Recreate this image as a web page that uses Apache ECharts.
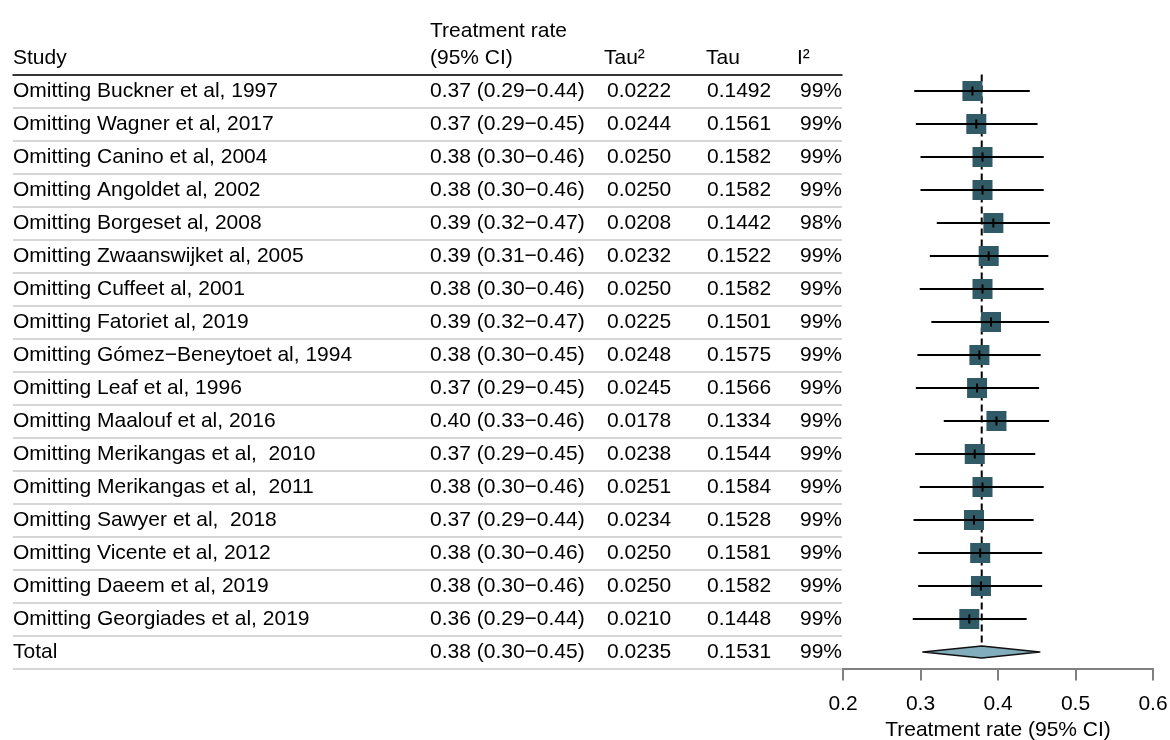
<!DOCTYPE html>
<html>
<head>
<meta charset="utf-8">
<script src="https://cdn.jsdelivr.net/npm/echarts@6/dist/echarts.min.js"></script>
<style>
body { margin: 0; background: #fff; }
#forest { width: 1170px; height: 740px; }
</style>
</head>
<body>
<div id="forest"></div>
<script>
var studies = [
    'Omitting Buckner et al, 1997',
    'Omitting Wagner et al, 2017',
    'Omitting Canino et al, 2004',
    'Omitting Angoldet al, 2002',
    'Omitting Borgeset al, 2008',
    'Omitting Zwaanswijket al, 2005',
    'Omitting Cuffeet al, 2001',
    'Omitting Fatoriet al, 2019',
    'Omitting Gómez\u2212Beneytoet al, 1994',
    'Omitting Leaf et al, 1996',
    'Omitting Maalouf et al, 2016',
    'Omitting Merikangas et al,  2010',
    'Omitting Merikangas et al,  2011',
    'Omitting Sawyer et al,  2018',
    'Omitting Vicente et al, 2012',
    'Omitting Daeem et al, 2019',
    'Omitting Georgiades et al, 2019',
    'Total'
];
var ciText = [
    '0.37 (0.29\u22120.44)', '0.37 (0.29\u22120.45)', '0.38 (0.30\u22120.46)', '0.38 (0.30\u22120.46)',
    '0.39 (0.32\u22120.47)', '0.39 (0.31\u22120.46)', '0.38 (0.30\u22120.46)', '0.39 (0.32\u22120.47)',
    '0.38 (0.30\u22120.45)', '0.37 (0.29\u22120.45)', '0.40 (0.33\u22120.46)', '0.37 (0.29\u22120.45)',
    '0.38 (0.30\u22120.46)', '0.37 (0.29\u22120.44)', '0.38 (0.30\u22120.46)', '0.38 (0.30\u22120.46)',
    '0.36 (0.29\u22120.44)', '0.38 (0.30\u22120.45)'
];
var tau2 = ['0.0222', '0.0244', '0.0250', '0.0250', '0.0208', '0.0232', '0.0250', '0.0225', '0.0248',
    '0.0245', '0.0178', '0.0238', '0.0251', '0.0234', '0.0250', '0.0250', '0.0210', '0.0235'];
var tau = ['0.1492', '0.1561', '0.1582', '0.1582', '0.1442', '0.1522', '0.1582', '0.1501', '0.1575',
    '0.1566', '0.1334', '0.1544', '0.1584', '0.1528', '0.1581', '0.1582', '0.1448', '0.1531'];
var i2 = ['99%', '99%', '99%', '99%', '98%', '99%', '99%', '99%', '99%',
    '99%', '99%', '99%', '99%', '99%', '99%', '99%', '99%', '99%'];

// point estimate and 95% CI of each leave-one-out row
var est = [0.367, 0.372, 0.380, 0.380, 0.394, 0.388, 0.380, 0.391, 0.376, 0.373, 0.398, 0.370, 0.380, 0.369, 0.377, 0.378, 0.363];
var lower = [0.292, 0.294, 0.300, 0.300, 0.321, 0.312, 0.299, 0.314, 0.296, 0.294, 0.330, 0.293, 0.299, 0.291, 0.297, 0.297, 0.290];
var upper = [0.441, 0.451, 0.459, 0.459, 0.467, 0.465, 0.459, 0.466, 0.455, 0.453, 0.466, 0.448, 0.459, 0.446, 0.457, 0.457, 0.437];
var totalEst = 0.379;
var totalLower = 0.303;
var totalUpper = 0.454;

var headers = ['Study', 'Treatment rate', '(95% CI)', 'Tau\u00b2', 'Tau', 'I\u00b2'];
var xName = 'Treatment rate (95% CI)';

var font = '"Liberation Sans", Arial, Helvetica, sans-serif';
var fs = 21;
var tableLeft = 13;
var colX = [13, 430, 607, 707, 800];

var rowData = [];
for (var k = 0; k < est.length; k++) {
    rowData.push([est[k], lower[k], upper[k], k]);
}
var totalRow = studies.length - 1;

function columnAxis(col, x) {
    return {
        type: 'category',
        gridIndex: 0,
        data: studies,
        inverse: true,
        position: 'left',
        axisLine: {show: false},
        axisTick: {show: false},
        splitLine: {show: false},
        axisLabel: {
            interval: 0,
            align: 'left',
            margin: tableLeft - x,
            color: '#000',
            fontSize: fs,
            fontFamily: font,
            formatter: function (v, idx) { return col[idx]; }
        }
    };
}

function headerText(txt, x, y) {
    return {
        type: 'text', x: x, y: y,
        style: {text: txt, fill: '#000', fontSize: fs, fontFamily: font, verticalAlign: 'middle'}
    };
}

var myChart = echarts.init(document.getElementById('forest'));
var option = {
    animation: false,
    grid: [
        {left: tableLeft, right: 328, top: 74.5, bottom: 71.5, containLabel: false, outerBoundsMode: 'none'},
        {left: 843, right: 17, top: 74.5, bottom: 71.5, containLabel: false, outerBoundsMode: 'none'}
    ],
    graphic: [
        headerText(headers[0], 13, 58),
        headerText(headers[1], 430, 31),
        headerText(headers[2], 430, 58),
        headerText(headers[3], 604, 58),
        headerText(headers[4], 706, 58),
        headerText(headers[5], 797, 58)
    ],
    xAxis: [
        {
            type: 'value', gridIndex: 0, min: 0, max: 1, position: 'top',
            axisLine: {show: true, lineStyle: {color: '#000', width: 1.5}},
            axisTick: {show: false}, axisLabel: {show: false}, splitLine: {show: false}
        },
        {
            type: 'value', gridIndex: 1, min: 0.2, max: 0.6, interval: 0.1, position: 'bottom',
            name: xName, nameLocation: 'middle', nameGap: 51,
            nameTextStyle: {color: '#000', fontSize: fs, fontFamily: font},
            axisLine: {show: true, lineStyle: {color: '#808080', width: 2}},
            axisTick: {show: true, length: 12, lineStyle: {color: '#808080', width: 2}},
            axisLabel: {color: '#000', fontSize: fs, fontFamily: font, margin: 25,
                formatter: function (v) { return v.toFixed(1); }},
            splitLine: {show: false}
        }
    ],
    yAxis: [
        {
            type: 'category', gridIndex: 0, data: studies, inverse: true,
            axisLine: {show: false}, axisTick: {show: false}, axisLabel: {show: false},
            splitLine: {show: true, interval: 0, lineStyle: {color: '#c8c8c8', width: 1.5}}
        },
        columnAxis(studies, colX[0]),
        columnAxis(ciText, colX[1]),
        columnAxis(tau2, colX[2]),
        columnAxis(tau, colX[3]),
        columnAxis(i2, colX[4]),
        {
            type: 'category', gridIndex: 1, data: studies, inverse: true, show: false
        }
    ],
    series: [
        {
            // pooled estimate reference line
            type: 'custom',
            xAxisIndex: 1, yAxisIndex: 6,
            data: [[totalEst, totalRow]],
            renderItem: function (params, api) {
                var p = api.coord([api.value(0), api.value(1)]);
                return {
                    type: 'line',
                    shape: {x1: p[0], y1: params.coordSys.y, x2: p[0], y2: p[1]},
                    style: {stroke: '#000', lineWidth: 2, lineDash: [7, 4]}
                };
            }
        },
        {
            type: 'custom',
            xAxisIndex: 1, yAxisIndex: 6,
            data: rowData,
            encode: {x: [0, 1, 2], y: 3},
            renderItem: function (params, api) {
                var c = api.coord([api.value(0), api.value(3)]);
                var l = api.coord([api.value(1), api.value(3)]);
                var h = api.coord([api.value(2), api.value(3)]);
                return {
                    type: 'group',
                    children: [
                        {type: 'rect', shape: {x: c[0] - 10, y: c[1] - 10, width: 20, height: 20},
                            style: {fill: '#2f5a66'}},
                        {type: 'line', shape: {x1: l[0], y1: c[1], x2: h[0], y2: c[1]},
                            style: {stroke: '#000', lineWidth: 2.2}},
                        {type: 'line', shape: {x1: c[0], y1: c[1] - 4.5, x2: c[0], y2: c[1] + 4.5},
                            style: {stroke: '#000', lineWidth: 2}}
                    ]
                };
            }
        },
        {
            type: 'custom',
            xAxisIndex: 1, yAxisIndex: 6,
            data: [[totalEst, totalLower, totalUpper, totalRow]],
            encode: {x: [0, 1, 2], y: 3},
            renderItem: function (params, api) {
                var c = api.coord([api.value(0), api.value(3)]);
                var l = api.coord([api.value(1), api.value(3)]);
                var h = api.coord([api.value(2), api.value(3)]);
                return {
                    type: 'polygon',
                    shape: {points: [[l[0], c[1]], [c[0], c[1] - 6], [h[0], c[1]], [c[0], c[1] + 6]]},
                    style: {fill: '#82adbd', stroke: '#111', lineWidth: 1.5, lineJoin: 'round'}
                };
            }
        }
    ]
};
myChart.setOption(option);
</script>
</body>
</html>
